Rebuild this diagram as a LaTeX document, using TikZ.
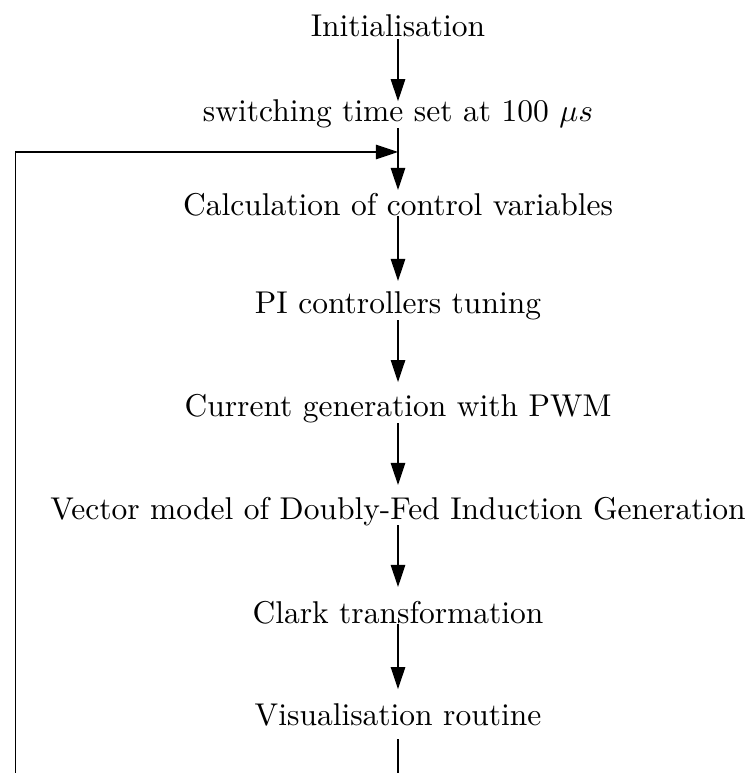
\documentclass[tikz,border=0pt]{standalone}
\usetikzlibrary{arrows.meta}
\begin{document}
\begin{tikzpicture}[x=0.3175pt,y=-0.3175pt,
  lbl/.style={inner sep=0pt, outer sep=0pt, anchor=base},
  arr/.style={-{Triangle[length=7pt,width=4.6pt]}},
  line width=0.4pt]
\useasboundingbox (0,0) rectangle (749,773);
\node[lbl] (init) at (398,37) {Initialisation};
\node[lbl] (sw) at (398,122) {switching time set at 100 $\mu s$};
\node[lbl] (calc) at (398,215.5) {Calculation of control variables};
\node[lbl] (pi) at (398,314) {PI controllers tuning};
\node[lbl] (cur) at (398,416.7) {Current generation with PWM};
\node[lbl] (vec) at (398,519) {Vector model of Doubly-Fed Induction Generation};
\node[lbl] (clark) at (398,623.8) {Clark transformation};
\node[lbl] (vis) at (398,725) {Visualisation routine};
\coordinate (join) at (398,152);
\coordinate (bc) at (398,773);
\coordinate (bl) at (15.8,773);
\draw[arr] ([yshift=-0.7pt]init.base) -- ([yshift=6.6pt]sw.base);
\draw[arr] (sw.south) -- (join) -- ([yshift=8.1pt]calc.base);
\draw[arr] (calc.south) -- ([yshift=10.5pt]pi.base);
\draw[arr] (pi.south) -- ([yshift=11pt]cur.base);
\draw[arr] (cur.south) -- ([yshift=10.8pt]vec.base);
\draw[arr] (vec.south) -- ([yshift=11.7pt]clark.base);
\draw[arr] (clark.south) -- ([yshift=11.4pt]vis.base);
\draw ([yshift=-4.6pt]vis.base) -- (bc);
\draw[arr] (bl) |- (join);
\end{tikzpicture}
\end{document}
